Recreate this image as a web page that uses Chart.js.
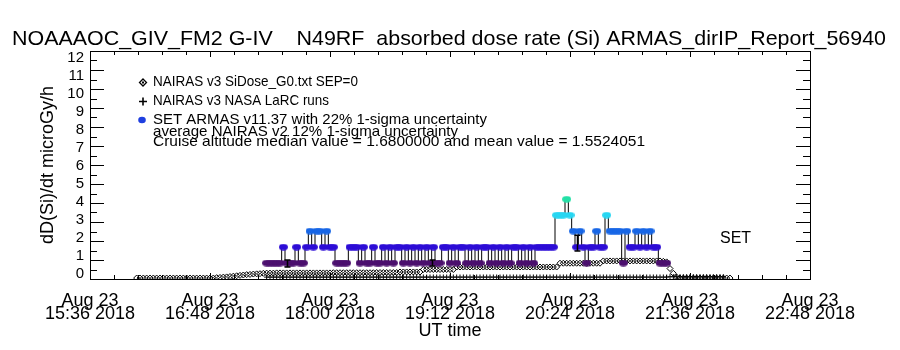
<!DOCTYPE html>
<html><head><meta charset="utf-8">
<script src="https://cdn.jsdelivr.net/npm/chart.js@4.4.1/dist/chart.umd.min.js"></script>
<style>html,body{margin:0;padding:0;background:#fff;}#wrap{width:900px;height:350px;}</style>
</head><body><div id="wrap"><canvas id="c" width="900" height="350"></canvas></div>
<script>
// ---------- text ----------
const titleText = "NOAAAOC_GIV_FM2 G-IV    N49RF  absorbed dose rate (Si) ARMAS_dirIP_Report_56940";
const yAxisTitle = "dD(Si)/dt microGy/h";
const xAxisTitle = "UT time";
const xTickLabels = [
  ["Aug 23", "15:36 2018"], ["Aug 23", "16:48 2018"], ["Aug 23", "18:00 2018"],
  ["Aug 23", "19:12 2018"], ["Aug 23", "20:24 2018"], ["Aug 23", "21:36 2018"],
  ["Aug 23", "22:48 2018"]
];
const yTickLabels = ["0","1","2","3","4","5","6","7","8","9","10","11","12"];
const legendLines = [
  "NAIRAS v3 SiDose_G0.txt SEP=0",
  "NAIRAS v3 NASA LaRC runs",
  "SET ARMAS v11.37 with 22% 1-sigma uncertainty",
  "average NAIRAS v2 12% 1-sigma uncertainty",
  "Cruise altitude median value = 1.6800000 and mean value = 1.5524051"
];
const setLabel = "SET";

// ---------- data (time = minutes after Aug 23 15:36 UT) ----------
const nairasStart = 28, nairasStep = 2;
const nairasValues = [
  0.05,0.05,0.05,0.05,0.05,0.05,0.05,0.05,0.05,0.05,0.05,0.05,
  0.05,0.05,0.05,0.05,0.05,0.05,0.05,0.05,0.05,0.05,0.05,0.05,
  0.07,0.08,0.10,0.11,0.13,0.15,0.17,0.19,0.21,0.23,0.24,0.26,0.27,0.28,0.30,
  0.31,0.31,0.31,0.32,0.32,0.32,0.32,0.32,0.32,0.32,0.32,0.32,0.32,0.32,0.32,0.32,0.32,0.32,0.32,0.32,
  0.33,0.33,0.33,0.33,0.33,0.33,0.33,0.33,0.33,0.33,0.33,0.33,0.33,0.34,0.34,0.34,0.34,0.34,0.34,0.34,
  0.37,0.37,0.37,0.37,0.37,0.37,0.37,
  0.50,0.50,0.50,0.50,0.50,0.50,0.50,0.50,0.50,0.50,
  0.63,0.63,0.63,0.63,0.63,0.63,0.63,0.63,0.63,0.63,0.63,0.63,0.63,0.63,0.63,0.63,
  0.63,0.63,0.63,0.63,0.63,0.63,0.63,0.63,0.63,0.63,0.63,0.63,0.63,0.63,0.63,
  0.83,0.83,0.83,0.83,0.83,0.83,0.83,0.83,0.83,0.83,0.83,0.83,0.83,
  0.95,0.95,0.95,0.95,0.95,0.95,0.95,0.95,0.95,0.95,0.95,0.95,0.95,0.95,0.95,0.95,0.95,0.95,
  0.93,0.90,0.55,0.30,0.10,
  0.05,0.05,0.05,0.05,0.05,0.05,0.05,0.05,0.05,0.05,0.05,0.05,0.05,0.05,0.05,0.05
];
const larcStart = 106, larcStep = 2;
const larcValues = [
  0.10,0.10,0.10,0.10,0.10,0.10,0.10,0.10,0.10,0.10,0.10,0.10,0.10,0.10,0.10,0.10,0.10,0.10,0.10,0.10,
  0.10,0.10,0.10,0.10,0.10,0.10,0.10,0.10,0.10,0.10,0.10,0.10,0.10,0.10,0.10,0.10,0.10,0.10,0.10,0.10,
  0.10,0.10,0.10,0.10,0.10,0.10,0.10,0.10,0.10,0.10,0.10,0.10,0.10,0.10,0.10,0.10,0.10,0.10,0.10,0.10,
  0.10,0.10,0.10,0.10,0.10,0.10,0.10,0.10,0.10,0.10,0.10,0.10,0.10,0.10,0.10,0.10,0.10,0.10,0.10,0.10,
  0.10,0.10,0.10,0.10,0.10,0.10,0.10,0.10,0.10,0.10,0.10,0.10,0.10,0.10,0.10,0.10,0.10,0.10,0.10,0.10,
  0.10,0.10,0.10,0.10,0.10,0.10,0.10,0.10,0.10,0.10,0.10,0.10,0.10,0.10,0.10,0.10,0.10,0.10,0.10,0.10,
  0.10,
  0.12,0.12,0.12,0.12,0.12,0.12,0.12,0.12,0.12,0.12,0.12,0.12,0.12,0.12,0.12,0.12,0.12
];
const armasStart = 106, armasStep = 2;
const armasValues = [
  0.84,0.84,0.84,0.84,0.84,1.68,0.84,0.84,0.84,1.68,
  0.84,0.84,1.68,2.52,1.68,2.52,2.52,1.68,2.52,1.68,
  1.68,0.84,0.84,0.84,0.84,1.68,1.68,1.68,0.84,1.68,
  0.84,0.84,1.68,0.84,0.84,1.68,0.84,1.68,0.84,1.68,
  1.68,0.84,1.68,0.84,1.68,0.84,1.68,0.84,1.68,0.84,
  1.68,0.84,0.84,1.68,1.68,0.84,1.68,0.84,1.68,1.68,
  0.84,1.68,0.84,1.68,0.84,1.68,1.68,0.84,1.68,0.84,
  1.68,0.84,1.68,0.84,1.68,1.68,0.84,1.68,0.84,1.68,
  0.84,1.68,1.68,1.68,1.68,1.68,1.68,3.36,3.36,3.36,
  4.20,3.36,2.52,1.68,2.52,1.68,0.84,1.68,1.68,2.52,
  1.68,1.68,3.36,2.52,2.52,2.52,2.52,0.84,2.52,1.68,
  1.68,2.52,1.68,2.52,1.68,2.52,1.68,1.68,0.84,0.84,
  0.84
];
const errTimes = [118, 205, 292];
const errLow = [0.63, 0.68, 1.47];
const errHigh = [1.00, 1.00, 2.30];

// ---------- styles ----------
const FONT = '"Liberation Sans", Arial, sans-serif';
const armasLevels = [0.84, 1.68, 2.52, 3.36, 4.20];
const armasColors = ['#4b0f6e', '#2c0cd6', '#1766e6', '#26d6f2', '#22e0a6'];
function levelIndex(v) {
  let best = 0;
  for (let i = 1; i < armasLevels.length; i++)
    if (Math.abs(v - armasLevels[i]) < Math.abs(v - armasLevels[best])) best = i;
  return best;
}
const dotImages = armasColors.map(col => {
  const cv = document.createElement('canvas');
  cv.width = 9; cv.height = 7;
  const g = cv.getContext('2d');
  g.fillStyle = col;
  g.beginPath(); g.ellipse(4.5, 3.5, 4.4, 3.3, 0, 0, Math.PI * 2); g.fill();
  return cv;
});
const series = (start, step, vals) => vals.map((v, i) => ({x: start + i * step, y: v}));

function fitText(ctx, text, x, y, width, size) {
  ctx.save();
  ctx.font = size + 'px ' + FONT;
  const w = ctx.measureText(text).width;
  ctx.translate(x, y);
  ctx.scale(width / w, 1);
  ctx.fillText(text, 0, 0);
  ctx.restore();
}

const decor = {
  id: 'decor',
  afterDatasetsDraw(chart) {
    const {ctx, scales: {x, y}} = chart;
    ctx.save();
    ctx.strokeStyle = '#000';
    ctx.lineWidth = 1.5;
    for (let i = 0; i < errTimes.length; i++) {
      const px = Math.round(x.getPixelForValue(errTimes[i])) + 0.5;
      const y1 = y.getPixelForValue(errLow[i]), y2 = y.getPixelForValue(errHigh[i]);
      ctx.beginPath();
      ctx.moveTo(px, y1); ctx.lineTo(px, y2);
      ctx.moveTo(px - 3, y1); ctx.lineTo(px + 3, y1);
      ctx.moveTo(px - 3, y2); ctx.lineTo(px + 3, y2);
      ctx.stroke();
    }
    ctx.restore();
  },
  afterDraw(chart) {
    const {ctx, chartArea: a, scales: {x, y}} = chart;
    ctx.save();
    ctx.fillStyle = '#000';
    ctx.strokeStyle = '#000';
    ctx.textBaseline = 'alphabetic';
    ctx.textAlign = 'left';
    fitText(ctx, titleText, 12, 45, 874, 21);
    ctx.lineWidth = 1;
    ctx.strokeRect(a.left + 0.5, a.top + 0.5, a.right - a.left, a.bottom - a.top);
    ctx.beginPath();
    for (let v = 0; v <= 12; v += 0.5) {
      const py = Math.round(y.getPixelForValue(v)) + 0.5;
      const len = Number.isInteger(v) ? 14 : 7;
      ctx.moveTo(a.left, py); ctx.lineTo(a.left + len, py);
      ctx.moveTo(a.right, py); ctx.lineTo(a.right - len, py);
    }
    for (let k = 0; k <= 30; k++) {
      const px = Math.round(x.getPixelForValue(k * 14.4)) + 0.5;
      const len = k % 5 === 0 ? 6 : 4;
      ctx.moveTo(px, a.bottom); ctx.lineTo(px, a.bottom - len);
      ctx.moveTo(px, a.top); ctx.lineTo(px, a.top + len);
    }
    ctx.stroke();
    // legend
    ctx.lineWidth = 1.3;
    ctx.beginPath();
    ctx.moveTo(143, 79); ctx.lineTo(146.5, 82.5); ctx.lineTo(143, 86); ctx.lineTo(139.5, 82.5); ctx.closePath();
    ctx.stroke();
    ctx.fillRect(142, 81.5, 2, 2);
    ctx.lineWidth = 1.6;
    ctx.beginPath();
    ctx.moveTo(139, 101.5); ctx.lineTo(147, 101.5);
    ctx.moveTo(143, 97.5); ctx.lineTo(143, 105.5);
    ctx.stroke();
    ctx.fillStyle = '#1f3fe0';
    ctx.beginPath(); ctx.ellipse(142, 120, 3.8, 3.2, 0, 0, Math.PI * 2); ctx.fill();
    ctx.fillStyle = '#000';
    fitText(ctx, legendLines[0], 153, 86, 205, 15);
    fitText(ctx, legendLines[1], 153, 105, 176, 15);
    fitText(ctx, legendLines[2], 153, 124, 334, 15);
    fitText(ctx, legendLines[3], 153, 136, 305, 15);
    fitText(ctx, legendLines[4], 153, 146, 492, 15);
    ctx.font = '16px ' + FONT;
    ctx.fillText(setLabel, 720, 243);
    ctx.restore();
  }
};

new Chart(document.getElementById('c'), {
  type: 'line',
  data: {
    datasets: [
      {
        label: 'SET ARMAS',
        data: series(armasStart, armasStep, armasValues),
        borderColor: '#000', borderWidth: 1, tension: 0, stepped: 'middle',
        pointRadius: 4, pointBorderWidth: 0,
        pointStyle: c => dotImages[levelIndex(c.raw.y)]
      },
      {
        label: 'NAIRAS v3 NASA LaRC runs',
        data: series(larcStart, larcStep, larcValues),
        showLine: false, pointStyle: 'cross', pointRadius: 2.6,
        pointBorderWidth: 1, pointBorderColor: '#000'
      },
      {
        label: 'NAIRAS v3 SiDose_G0',
        data: series(nairasStart, nairasStep, nairasValues),
        showLine: false, pointStyle: 'rectRot', pointRadius: 3,
        pointBorderWidth: 1, pointBorderColor: '#000',
        pointBackgroundColor: 'rgba(0,0,0,0)'
      }
    ]
  },
  options: {
    responsive: false, animation: false, events: [],
    layout: {padding: {left: 0, right: 90, top: 51, bottom: 0}},
    plugins: {legend: {display: false}, tooltip: {enabled: false}, title: {display: false}},
    scales: {
      x: {
        type: 'linear', min: 0, max: 432,
        grid: {display: false, drawTicks: false}, border: {display: false},
        ticks: {
          stepSize: 72, autoSkip: false, maxRotation: 0, minRotation: 0,
          padding: 16, color: '#000',
          font: {family: FONT, size: 18, lineHeight: '13px'},
          callback: v => xTickLabels[Math.round(v / 72)]
        },
        title: {display: true, text: xAxisTitle, color: '#000',
          font: {family: FONT, size: 18}, padding: {top: 0, bottom: 8}},
        afterFit: s => { s.height = 71; }
      },
      y: {display: false, min: 0, max: 12},
      yLabels: {
        position: 'left', min: -0.3056, max: 12.361,
        grid: {display: false, drawTicks: false}, border: {display: false},
        ticks: {stepSize: 1, includeBounds: false, autoSkip: false, padding: 6, color: '#000',
          font: {family: FONT, size: 15},
          callback: v => yTickLabels[Math.round(v)] ?? ''},
        title: {display: true, text: yAxisTitle, color: '#000',
          font: {family: FONT, size: 18}, padding: {top: 37, bottom: 0}},
        afterFit: s => { s.width = 90; }
      }
    }
  },
  plugins: [decor]
});
</script>
</body></html>
